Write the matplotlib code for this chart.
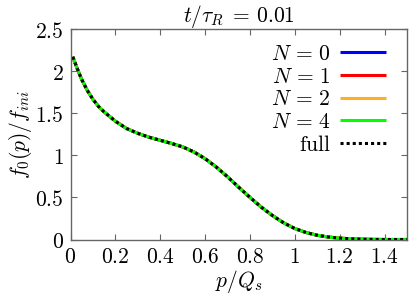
import matplotlib
matplotlib.use("Agg")
import matplotlib.pyplot as plt

plt.rcParams['mathtext.fontset'] = 'cm'
plt.rcParams['font.family'] = 'DejaVu Serif'

p = [0.01, 0.03, 0.05, 0.075, 0.1, 0.125, 0.15, 0.2, 0.25, 0.3, 0.35, 0.4, 0.45, 0.5,
     0.55, 0.6, 0.65, 0.7, 0.75, 0.8, 0.85, 0.9, 0.95, 1.0, 1.05, 1.1, 1.15,
     1.2, 1.25, 1.3, 1.35, 1.4, 1.45, 1.5]
f_full = [2.17, 2.03, 1.90, 1.77, 1.665, 1.58, 1.515, 1.405, 1.318, 1.261, 1.215, 1.178, 1.141, 1.10,
          1.04, 0.96, 0.86, 0.745, 0.62, 0.50, 0.385, 0.285, 0.198, 0.13, 0.083, 0.05, 0.029,
          0.016, 0.008, 0.003, 0.001, 0.0, 0.0, 0.0]
f_N0 = list(f_full)
f_N1 = list(f_full)
f_N2 = list(f_full)
f_N4 = list(f_full)

labels = [r'$N\,=\,0$', r'$N\,=\,1$', r'$N\,=\,2$', r'$N\,=\,4$', r'$\mathrm{full}$']
colors = ['#0000ff', '#ff0000', '#ffb020', '#00ff00', '#000000']
xticks = [0, 0.2, 0.4, 0.6, 0.8, 1, 1.2, 1.4]
yticks = [0, 0.5, 1, 1.5, 2, 2.5]

fs = 15.5
fig = plt.figure(figsize=(4.09, 2.94), dpi=100)
ax = fig.add_axes([70.5/409, 1-239.5/294, (407-70.5)/409, (239.5-29)/294])

for f, lab, c in zip([f_N0, f_N1, f_N2, f_N4], labels[:4], colors[:4]):
    ax.plot(p, f, color=c, lw=2.2, label=lab, solid_capstyle='butt')
ax.plot(p, f_full, color=colors[4], lw=2.2, ls=(0, (1, 1)), label=labels[4])

ax.set_xlim(0, 1.5)
ax.set_ylim(0, 2.5)
ax.set_xticks(xticks)
ax.set_xticklabels([f'${v:g}$' for v in xticks])
ax.set_yticks(yticks)
ax.set_yticklabels([f'${v:g}$' for v in yticks])
ax.tick_params(direction='in', length=4, width=0.8, color='#666666', labelsize=fs,
               top=True, right=True, pad=5)
for s in ax.spines.values():
    s.set_color('#666666')
    s.set_linewidth(1.0)

ax.set_xlabel(r'$p/Q_s$', fontsize=fs, labelpad=0)
ax.set_ylabel(r'$f_0(p)/f_{ini}$', fontsize=fs, labelpad=1)
ax.set_title(r'$t/\tau_R\;=\,0.01$', fontsize=fs, pad=5)

leg = ax.legend(loc='upper right', bbox_to_anchor=(0.975, 0.995), frameon=False,
                markerfirst=False, fontsize=fs, handlelength=2.1, handletextpad=0.45,
                labelspacing=0.03, borderaxespad=0.2)

fig.savefig('out.png', dpi=100)
